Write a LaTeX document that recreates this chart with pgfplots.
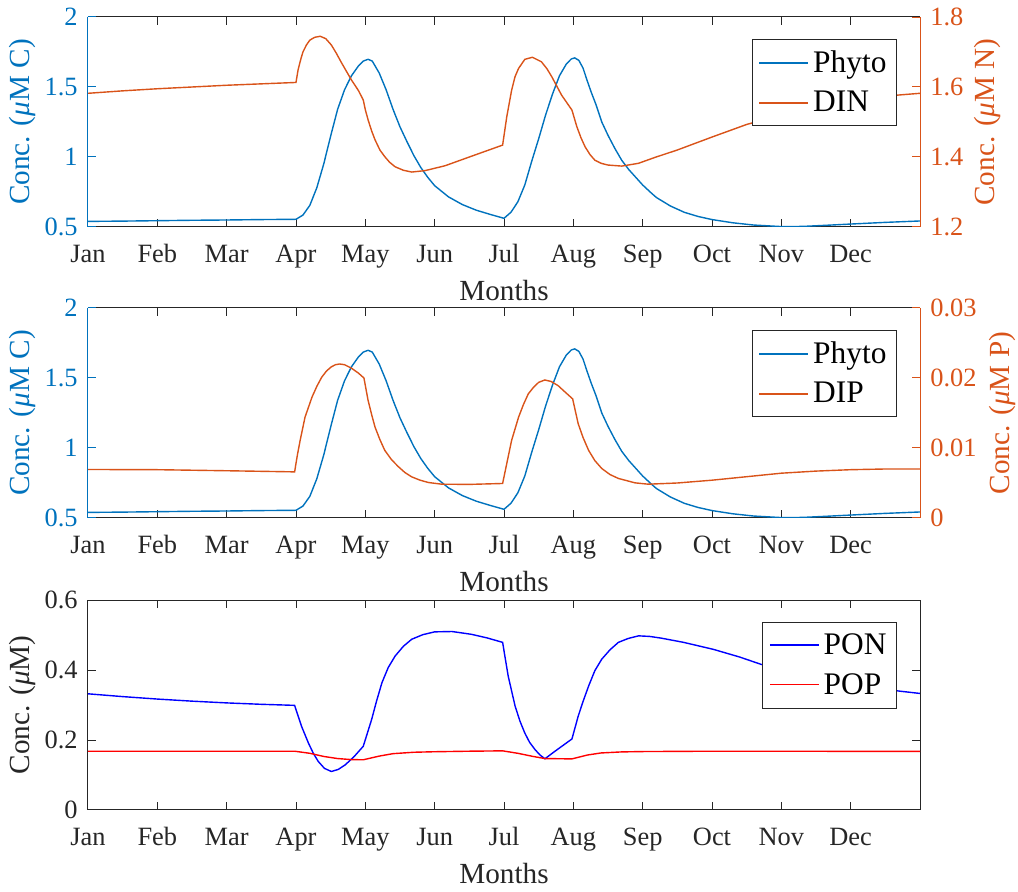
\documentclass[border=0pt]{standalone}
\usepackage{fontspec}
\setmainfont{Liberation Serif}
\usepackage{pgfplots}
\usepackage{pgfplotstable}
\pgfplotsset{compat=1.18}

\definecolor{mblue}{rgb}{0,0.447,0.741}
\definecolor{morange}{rgb}{0.85,0.325,0.098}
\definecolor{mgray}{rgb}{0.15,0.15,0.15}
\definecolor{pblue}{rgb}{0,0,1}
\definecolor{pred}{rgb}{1,0,0}

\newcommand{\tickfont}{\rmfamily\fontsize{13.2}{15}\selectfont}
\newcommand{\labfont}{\rmfamily\fontsize{14.6}{17}\selectfont}
\newcommand{\legfont}{\rmfamily\fontsize{15.7}{19}\selectfont}

\pgfplotstableread{
x y
0 0.540
0.5 0.542
1 0.545
1.5 0.548
2 0.550
2.5 0.553
3 0.555
3.1 0.585
3.2 0.655
3.3 0.78
3.4 0.95
3.5 1.15
3.6 1.34
3.7 1.48
3.8 1.58
3.9 1.65
3.97 1.685
4.04 1.698
4.1 1.685
4.2 1.60
4.3 1.48
4.4 1.34
4.5 1.215
4.6 1.11
4.7 1.01
4.8 0.925
4.9 0.855
5.0 0.795
5.2 0.715
5.4 0.66
5.6 0.62
5.8 0.59
6.0 0.562
6.1 0.605
6.2 0.68
6.3 0.80
6.4 0.97
6.5 1.13
6.6 1.30
6.7 1.45
6.8 1.58
6.9 1.665
6.97 1.70
7.02 1.708
7.08 1.69
7.14 1.635
7.2 1.545
7.26 1.46
7.33 1.37
7.41 1.25
7.5 1.155
7.6 1.06
7.7 0.975
7.8 0.91
7.9 0.855
8.0 0.80
8.13 0.74
8.2 0.71
8.4 0.65
8.6 0.605
8.8 0.575
9.0 0.553
9.3 0.530
9.6 0.514
10.0 0.503
10.3 0.504
10.6 0.511
11.0 0.521
11.5 0.533
12.0 0.543
}\phyto

\pgfplotstableread{
x y
0 1.582
0.5 1.589
1 1.595
1.5 1.600
2 1.605
2.5 1.609
3 1.613
3.03 1.649
3.07 1.68
3.1 1.700
3.15 1.72
3.2 1.734
3.27 1.742
3.35 1.745
3.43 1.738
3.51 1.72
3.58 1.697
3.66 1.668
3.73 1.644
3.80 1.620
3.9 1.59
3.97 1.563
4.0 1.535
4.04 1.506
4.09 1.475
4.14 1.449
4.21 1.42
4.28 1.401
4.35 1.385
4.43 1.372
4.55 1.362
4.67 1.357
4.86 1.361
5.15 1.375
5.5 1.40
5.98 1.434
6.04 1.515
6.11 1.591
6.16 1.63
6.21 1.653
6.30 1.679
6.41 1.685
6.54 1.672
6.62 1.652
6.69 1.629
6.76 1.603
6.83 1.577
6.98 1.534
7.05 1.487
7.11 1.455
7.17 1.429
7.24 1.407
7.31 1.391
7.40 1.382
7.50 1.377
7.70 1.374
7.94 1.382
8.18 1.399
8.5 1.42
9.0 1.457
9.5 1.493
10 1.52
10.5 1.545
11 1.563
11.5 1.574
12 1.582
}\din

\pgfplotstableread{
x y
0 0.00693
1 0.00690
2 0.00675
2.98 0.00659
3.02 0.0090
3.06 0.0111
3.13 0.0144
3.23 0.01725
3.30 0.0188
3.37 0.0201
3.44 0.0210
3.51 0.0216
3.57 0.0219
3.63 0.0220
3.70 0.0219
3.80 0.0214
3.90 0.0207
3.98 0.0200
4.04 0.01678
4.09 0.0148
4.14 0.01298
4.21 0.0112
4.28 0.00967
4.38 0.0083
4.48 0.0073
4.57 0.0065
4.67 0.00587
4.79 0.0054
4.91 0.00507
5.10 0.00483
5.5 0.00480
5.98 0.00493
6.04 0.00778
6.11 0.0111
6.21 0.0144
6.28 0.0162
6.35 0.01773
6.42 0.0186
6.50 0.01938
6.59 0.01972
6.68 0.0195
6.78 0.01891
6.88 0.0180
6.99 0.01702
7.07 0.01347
7.14 0.0115
7.22 0.00967
7.31 0.0082
7.41 0.00707
7.53 0.0062
7.65 0.00565
7.89 0.00502
8.08 0.00483
8.5 0.0050
9.0 0.0054
9.5 0.0059
10.0 0.0064
10.5 0.0067
11.0 0.0069
11.5 0.0070
12 0.0070
}\dip

\pgfplotstableread{
x y
0 0.332
0.5 0.324
1 0.317
1.5 0.311
2 0.306
2.5 0.302
2.98 0.299
3.08 0.239
3.18 0.191
3.25 0.162
3.32 0.139
3.41 0.119
3.51 0.110
3.61 0.116
3.71 0.129
3.84 0.153
3.97 0.182
4.09 0.258
4.16 0.31
4.24 0.364
4.33 0.407
4.43 0.440
4.55 0.468
4.67 0.488
4.83 0.501
5.0 0.509
5.25 0.510
5.53 0.502
5.75 0.492
5.98 0.479
6.06 0.383
6.16 0.297
6.23 0.254
6.30 0.220
6.37 0.193
6.45 0.172
6.52 0.157
6.59 0.1464
6.75 0.170
6.98 0.203
7.07 0.268
7.14 0.31
7.22 0.354
7.31 0.398
7.41 0.431
7.53 0.458
7.65 0.479
7.79 0.490
7.94 0.4976
8.1 0.496
8.27 0.491
8.59 0.479
9.02 0.459
9.4 0.437
9.71 0.416
10.2 0.395
10.7 0.375
11.2 0.357
11.69 0.340
12 0.333
}\pon

\pgfplotstableread{
x y
0 0.168
2.98 0.168
3.2 0.162
3.4 0.153
3.6 0.147
3.8 0.144
3.97 0.1435
4.2 0.154
4.4 0.161
4.7 0.165
5.0 0.1665
5.5 0.168
5.98 0.169
6.2 0.162
6.42 0.153
6.59 0.147
6.98 0.146
7.2 0.157
7.4 0.163
7.7 0.166
8.0 0.167
9 0.168
12 0.1675
}\pop

\pgfplotsset{
  common/.style={scale only axis, width=416pt, height=105pt, xmin=0, xmax=12,
    anchor=south west, tick align=inside, major tick length=4pt,
    scaled ticks=false, /pgf/number format/assume math mode=true,
    tick label style={font=\tickfont}, label style={font=\labfont},
    axis line style={line width=0.5pt}},
  xframe/.style={common, axis x line*=box, axis y line=none,
    xtick={0,...,11}, xticklabels={Jan,Feb,Mar,Apr,May,Jun,Jul,Aug,Sep,Oct,Nov,Dec},
    xticklabel style={anchor=base, yshift=-18pt, text=mgray},
    xlabel=Months,
    xlabel style={at={(axis description cs:0.5,0)}, anchor=base, yshift=-37pt, text=mgray},
    x axis line style={mgray}, tick style={mgray, line width=0.5pt}, ymin=0, ymax=1},
  leftaxis/.style={common, axis x line=none, xtick=\empty, axis y line*=left,
    y axis line style={mblue}, tick style={mblue, line width=0.5pt},
    yticklabel style={text=mblue, anchor=east, inner sep=0pt, xshift=-5pt},
    ylabel style={at={(axis description cs:-0.0793,0.5)}, anchor=center, text=mblue}},
  rightaxis/.style={common, axis x line=none, xtick=\empty, axis y line*=right,
    y axis line style={morange}, tick style={morange, line width=0.5pt},
    yticklabel style={text=morange, anchor=west, inner sep=0pt, xshift=5pt},
    ylabel style={anchor=center, rotate=0, text=morange}},
  mleg/.style={legend style={at={(1,1)}, anchor=north east, xshift=-11.5pt, yshift=-11pt,
    draw=mgray, fill=white, font=\legfont, line width=0.5pt, inner xsep=3pt, inner ysep=3.5pt,
    row sep=4pt},
    legend cell align=left,
    legend image code/.code={\draw[##1, line width=0.9pt] (0pt,0pt) -- (24.5pt,0pt);}},
}

\begin{document}
\begin{tikzpicture}
\useasboundingbox (-44pt,-332.5pt) rectangle (465pt,113.5pt);

% ---------- Panel 1 ----------
\begin{axis}[xframe, at={(0pt,0pt)}]
\end{axis}
\begin{axis}[leftaxis, at={(0pt,0pt)}, ymin=0.5, ymax=2,
  ytick={0.5,1,1.5,2}, yticklabels={\textrm{0.5},\textrm{1},\textrm{1.5},\textrm{2}},
  ylabel={Conc. (\textit{μ}M C)}]
\addplot[mblue, line width=0.7pt] table {\phyto};
\end{axis}
\begin{axis}[rightaxis, mleg, at={(0pt,0pt)}, ymin=1.2, ymax=1.8,
  ytick={1.2,1.4,1.6,1.8}, yticklabels={\textrm{1.2},\textrm{1.4},\textrm{1.6},\textrm{1.8}},
  ylabel={Conc. (\textit{μ}M N)},
  ylabel style={at={(axis description cs:1.0817,0.5)}}]
\addlegendimage{mblue}
\addlegendentry{Phyto}
\addplot[morange, line width=0.7pt] table {\din};
\addlegendentry{DIN}
\end{axis}

% ---------- Panel 2 ----------
\begin{axis}[xframe, at={(0pt,-145.5pt)}]
\end{axis}
\begin{axis}[leftaxis, at={(0pt,-145.5pt)}, ymin=0.5, ymax=2,
  ytick={0.5,1,1.5,2}, yticklabels={\textrm{0.5},\textrm{1},\textrm{1.5},\textrm{2}},
  ylabel={Conc. (\textit{μ}M C)}]
\addplot[mblue, line width=0.7pt] table {\phyto};
\end{axis}
\begin{axis}[rightaxis, mleg, at={(0pt,-145.5pt)}, ymin=0, ymax=0.03,
  ytick={0,0.01,0.02,0.03}, yticklabels={\textrm{0},\textrm{0.01},\textrm{0.02},\textrm{0.03}},
  ylabel={Conc. (\textit{μ}M P)},
  ylabel style={at={(axis description cs:1.0986,0.5)}}]
\addlegendimage{mblue}
\addlegendentry{Phyto}
\addplot[morange, line width=0.7pt] table {\dip};
\addlegendentry{DIP}
\end{axis}

% ---------- Panel 3 ----------
\begin{axis}[common, mleg, at={(0pt,-291.5pt)}, ymin=0, ymax=0.6,
  legend image code/.code={\draw[#1, line width=0.9pt] (0pt,0.3pt) -- (24.5pt,0.3pt);},
  axis line style={mgray, line width=0.5pt}, tick style={mgray, line width=0.5pt},
  xtick={0,...,11}, xticklabels={Jan,Feb,Mar,Apr,May,Jun,Jul,Aug,Sep,Oct,Nov,Dec},
  xticklabel style={anchor=base, yshift=-18pt, text=mgray},
  xlabel=Months,
  xlabel style={at={(axis description cs:0.5,0)}, anchor=base, yshift=-37pt, text=mgray},
  ytick={0,0.2,0.4,0.6}, yticklabels={\textrm{0},\textrm{0.2},\textrm{0.4},\textrm{0.6}},
  yticklabel style={text=mgray, anchor=east, inner sep=0pt, xshift=-5pt},
  ylabel={Conc. (\textit{μ}M)},
  ylabel style={at={(axis description cs:-0.0793,0.5)}, anchor=center, text=mgray}]
\addlegendimage{pblue}
\addlegendentry{PON}
\addlegendimage{pred}
\addlegendentry{POP}
\addplot[pblue, line width=0.7pt, forget plot] table {\pon};
\addplot[pred, line width=0.7pt, forget plot] table {\pop};
\end{axis}
\end{tikzpicture}
\end{document}
